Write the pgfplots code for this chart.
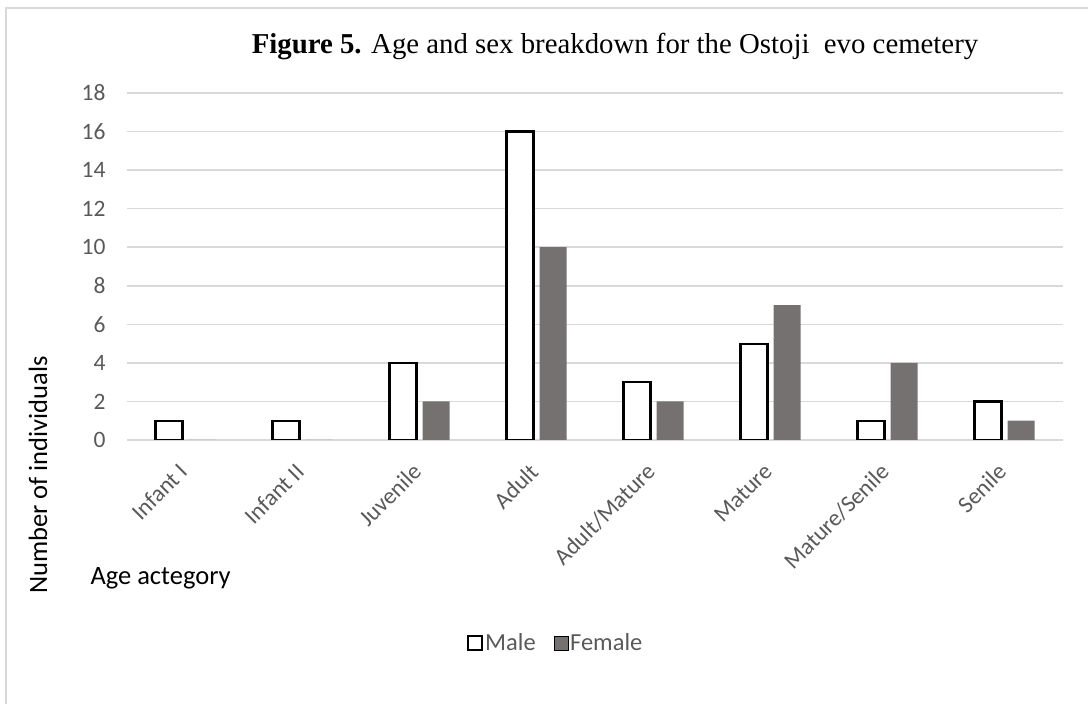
\documentclass[border=0pt]{standalone}
\usepackage{pgfplots}
\pgfplotsset{compat=1.18}
\usepackage{fontspec}
\setmainfont{Carlito}
\newfontfamily\titlefont{Liberation Serif}
\definecolor{femalefill}{HTML}{767171}
\definecolor{gridgray}{HTML}{D9D9D9}
\definecolor{labelgray}{HTML}{595959}
\definecolor{framegray}{HTML}{D9D9D9}

\begin{document}
\begin{tikzpicture}[x=1pt,y=1pt]
\useasboundingbox (0,0) rectangle (1088,704);
\begin{scope}
  \clip (0,0) rectangle (1088,704);
  \draw[framegray, line width=1.5pt] (6,-20) rectangle (1120,696);
\end{scope}

\begin{axis}[
  at={(127pt,264pt)}, anchor=south west,
  scale only axis, width=936pt, height=347pt,
  ybar=6pt, bar width=27pt,
  xmin=-0.5, xmax=7.5, ymin=0, ymax=18,
  xtick={0,...,7},
  xticklabels={Infant I,Infant II,Juvenile,Adult,Adult/Mature,Mature,Mature/Senile,Senile},
  ytick={0,2,...,18},
  ymajorgrids, grid style={gridgray, line width=1.5pt},
  axis line style={draw=none}, major tick style={draw=none},
  tick label style={font=\fontsize{23.5}{27}\selectfont, text=labelgray},
  /pgf/number format/assume math mode=true,
  xticklabel style={rotate=45, anchor=east, yshift=-15pt, xshift=-15pt},
  yticklabel style={xshift=-18pt},
  legend style={at={(0.458,-0.585)}, anchor=center, draw=none, fill=none,
    legend columns=2, font=\fontsize{24.5}{28}\selectfont, text=labelgray,
    /tikz/every even column/.append style={column sep=16pt}},
  legend image code/.code={\draw[#1] (-6pt,-7pt) rectangle (8pt,7pt);},
]
\addplot[draw=black, fill=white, line width=2.2pt] coordinates
  {(0,1) (1,1) (2,4) (3,16) (4,3) (5,5) (6,1) (7,2)};
\addplot[draw=none, fill=femalefill] coordinates
  {(0,0) (1,0) (2,2) (3,10) (4,2) (5,7) (6,4) (7,1)};
\legend{Male,Female}
\end{axis}

\node[rotate=90, font=\fontsize{26.5}{30}\selectfont] at (38,229) {Number of individuals};
\node[anchor=west, font=\fontsize{26.5}{30}\selectfont] at (87,126) {Age actegory};
\node[font=\titlefont\fontsize{28.8}{34}\selectfont] at (615,657)
  {\textbf{Figure 5.} Age and sex breakdown for the Ostoji\ \ evo cemetery};
\end{tikzpicture}
\end{document}
